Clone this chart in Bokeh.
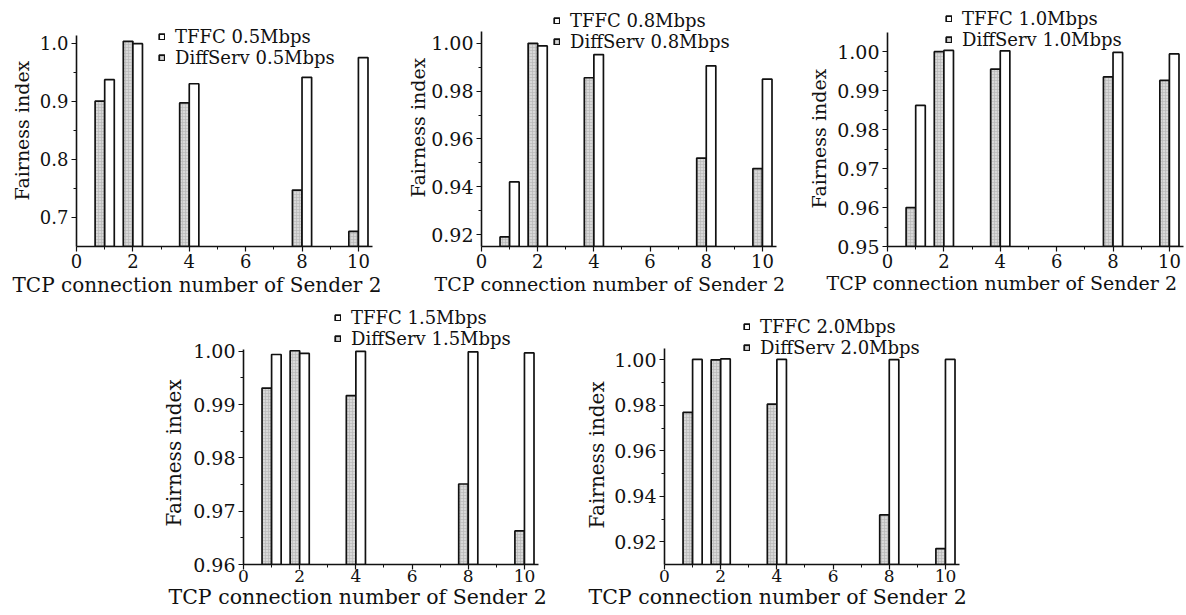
from bokeh.plotting import figure
from bokeh.layouts import row, column, Spacer
from bokeh.models import (Range1d, FixedTicker, PrintfTickFormatter, Title,
                          Legend, LegendItem, ColumnDataSource)
from bokeh.transform import dodge
from bokeh.embed import file_html
from bokeh.resources import INLINE

# ---------------- data ----------------
connections = [1, 2, 4, 8, 10]
rates = ["0.5", "0.8", "1.0", "1.5", "2.0"]

tffc_05 = [0.937, 0.999, 0.930, 0.941, 0.975]
diff_05 = [0.900, 1.003, 0.897, 0.747, 0.676]

tffc_08 = [0.942, 0.9989, 0.9953, 0.9906, 0.985]
diff_08 = [0.919, 1.000, 0.9856, 0.952, 0.9476]

tffc_10 = [0.9862, 1.0003, 1.0002, 0.9998, 0.9994]
diff_10 = [0.960, 1.000, 0.9955, 0.9935, 0.9926]

tffc_15 = [0.9994, 0.9996, 1.0000, 0.9999, 0.9997]
diff_15 = [0.9931, 1.0001, 0.9917, 0.9751, 0.9663]

tffc_20 = [1.0002, 1.0004, 1.0002, 1.0001, 1.0002]
diff_20 = [0.9769, 1.000, 0.9805, 0.9318, 0.9170]

x_ticks = [0, 2, 4, 6, 8, 10]
x_minor = [1, 3, 5, 7, 9]

y_ticks_05 = [0.7, 0.8, 0.9, 1.0]
y_minor_05 = [0.75, 0.85, 0.95]
y_ticks_08 = [0.92, 0.94, 0.96, 0.98, 1.00]
y_minor_08 = [0.93, 0.95, 0.97, 0.99]
y_ticks_10 = [0.95, 0.96, 0.97, 0.98, 0.99, 1.00]
y_minor_10 = [0.955, 0.965, 0.975, 0.985, 0.995]
y_ticks_15 = [0.96, 0.97, 0.98, 0.99, 1.00]
y_minor_15 = [0.965, 0.975, 0.985, 0.995]
y_ticks_20 = [0.92, 0.94, 0.96, 0.98, 1.00]
y_minor_20 = [0.93, 0.95, 0.97, 0.99]

x_title = "TCP connection number of Sender 2"
y_title = "Fairness index"

# ---------------- layout / style ----------------
FONT = "DejaVu Serif"
BAR_W = 0.34
X_END = 10.5

# page geometry of each panel: figure left/top/width/height, frame left/right,
# axis top/bottom (pixels) and the y-axis extent
panels = [
    dict(t=tffc_05, d=diff_05, rate=rates[0], yt=y_ticks_05, ym=y_minor_05, fmt="%.1f", yb=(0.65, 1.013),
         fx=0, fy=0, w=401, h=304, L=76, R=372, T=35, B=246, FT=3,
         xt_off=-64, xt_so=4, yt_off=46, yt_so=8, leg=(82, 178), leg_sp=0, xls=2,
         tick_fs=18, xtick_fs=18, xt_fs=20, yt_fs=19, leg_fs=18),
    dict(t=tffc_08, d=diff_08, rate=rates[1], yt=y_ticks_08, ym=y_minor_08, fmt="%.2f", yb=(0.915, 1.005),
         fx=401, fy=0, w=390, h=304, L=481, R=776, T=31, B=247, FT=3,
         xt_off=-47, xt_so=4, yt_off=49, yt_so=0, leg=(72, 194), leg_sp=0, xls=2,
         tick_fs=19, xtick_fs=18, xt_fs=19, yt_fs=19, leg_fs=18),
    dict(t=tffc_10, d=diff_10, rate=rates[2], yt=y_ticks_10, ym=y_minor_10, fmt="%.2f", yb=(0.95, 1.005),
         fx=791, fy=0, w=395, h=304, L=887, R=1183, T=32, B=249, FT=3,
         xt_off=-61, xt_so=2, yt_off=38, yt_so=10, leg=(58, 196), leg_sp=0, xls=2,
         tick_fs=19, xtick_fs=18, xt_fs=19, yt_fs=19, leg_fs=18),
    dict(t=tffc_15, d=diff_15, rate=rates[3], yt=y_ticks_15, ym=y_minor_15, fmt="%.2f", yb=(0.96, 1.0004),
         fx=143, fy=304, w=421, h=311, L=243, R=538, T=349, B=566, FT=305,
         xt_off=-75, xt_so=0, yt_off=38, yt_so=10, leg=(91, 215), leg_sp=0, xls=0,
         tick_fs=19, xtick_fs=17, xt_fs=20.5, yt_fs=20, leg_fs=18),
    dict(t=tffc_20, d=diff_20, rate=rates[4], yt=y_ticks_20, ym=y_minor_20, fmt="%.2f", yb=(0.91, 1.005),
         fx=564, fy=304, w=440, h=311, L=664, R=959, T=348, B=564, FT=305,
         xt_off=-76, xt_so=0, yt_off=36, yt_so=5, leg=(79, 206), leg_sp=0, xls=0,
         tick_fs=19, xtick_fs=17, xt_fs=20.5, yt_fs=20, leg_fs=18),
]


def make_panel(c):
    y0, y1 = c["yb"]
    # extend the frame above the axis so the legend can sit there
    y_end = y1 + (y1 - y0) * (c["T"] - c["FT"]) / (c["B"] - c["T"])
    p = figure(width=c["w"], height=c["h"], output_backend="svg", toolbar_location=None,
               x_range=Range1d(0, X_END), y_range=Range1d(y0, y_end),
               min_border_left=c["L"] - c["fx"], min_border_right=c["fx"] + c["w"] - c["R"],
               min_border_top=c["FT"] - c["fy"], min_border_bottom=c["fy"] + c["h"] - c["B"])
    p.outline_line_color = None
    p.grid.visible = False
    p.background_fill_color = "white"
    p.border_fill_color = "white"

    src = ColumnDataSource(dict(x=connections, tffc=c["t"], diff=c["d"]))
    r_d = p.vbar(x=dodge("x", -BAR_W / 2, range=p.x_range), top="diff", bottom=0, width=BAR_W,
                 source=src, fill_color="#d8d8d8", line_color="#111111", line_width=1.7,
                 hatch_pattern="cross", hatch_scale=3, hatch_color="#b4b4b4", hatch_weight=0.6)
    r_t = p.vbar(x=dodge("x", BAR_W / 2, range=p.x_range), top="tffc", bottom=0, width=BAR_W,
                 source=src, fill_color="white", line_color="#111111", line_width=1.7)

    for ax in (p.xaxis[0], p.yaxis[0]):
        ax.axis_line_width = 1.6
        ax.axis_line_color = "#111111"
        ax.major_tick_out = 5
        ax.major_tick_in = 0
        ax.minor_tick_out = 3
        ax.minor_tick_in = 0
        ax.major_tick_line_width = 1.2
        ax.minor_tick_line_width = 1.0
        ax.major_tick_line_color = "#111111"
        ax.minor_tick_line_color = "#111111"
        ax.major_label_text_font = FONT
        ax.major_label_text_color = "#111111"
    p.yaxis.major_label_text_font_size = f"{c['tick_fs']}px"
    p.xaxis.major_label_text_font_size = f"{c['xtick_fs']}px"
    p.yaxis.major_label_standoff = 3
    p.xaxis.major_label_standoff = c["xls"]

    p.xaxis.ticker = FixedTicker(ticks=x_ticks, minor_ticks=x_minor)
    p.xaxis.formatter = PrintfTickFormatter(format="%d")
    p.yaxis.ticker = FixedTicker(ticks=c["yt"], minor_ticks=c["ym"])
    p.yaxis.formatter = PrintfTickFormatter(format=c["fmt"])
    p.yaxis.bounds = (y0, y1)
    p.xaxis.bounds = (0, X_END)

    p.add_layout(Title(text=x_title, align="left", offset=c["xt_off"], vertical_align="top",
                       standoff=c["xt_so"], text_font=FONT, text_font_size=f"{c['xt_fs']}px",
                       text_font_style="normal", text_color="#111111"), "below")
    p.add_layout(Title(text=y_title, align="left", offset=c["yt_off"], vertical_align="bottom",
                       standoff=c["yt_so"], text_font=FONT, text_font_size=f"{c['yt_fs']}px",
                       text_font_style="normal", text_color="#111111"), "left")

    legend = Legend(items=[LegendItem(label=f"TFFC {c['rate']}Mbps", renderers=[r_t]),
                           LegendItem(label=f"DiffServ {c['rate']}Mbps", renderers=[r_d])],
                    location=c["leg"], padding=0, margin=0, spacing=c["leg_sp"],
                    glyph_width=7, glyph_height=7, label_standoff=10,
                    label_text_font=FONT, label_text_font_size=f"{c['leg_fs']}px",
                    label_text_color="#111111",
                    border_line_alpha=0, background_fill_alpha=0)
    p.add_layout(legend)
    return p


figs = [make_panel(c) for c in panels]
top = row(figs[0], figs[1], figs[2])
bottom = row(Spacer(width=143, height=311), figs[3], figs[4])
layout = column(top, bottom)

open("out.html", "w").write(file_html(layout, INLINE))
